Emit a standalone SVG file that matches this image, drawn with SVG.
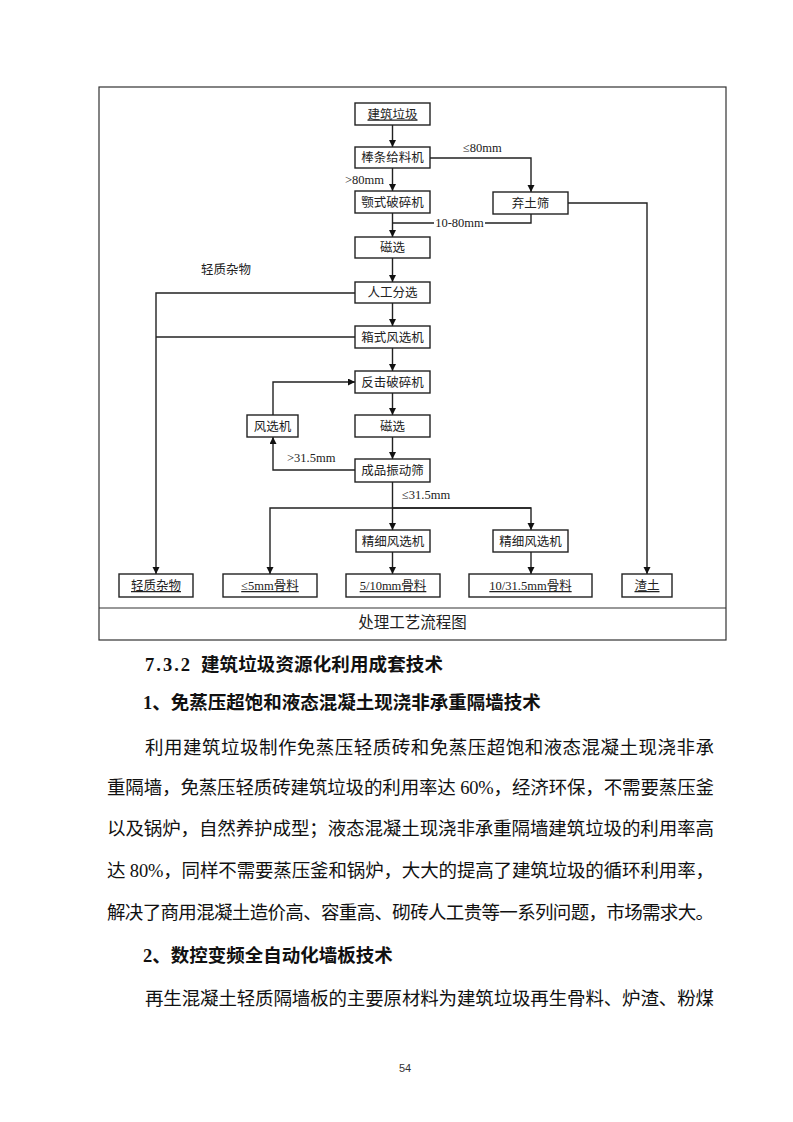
<svg xmlns="http://www.w3.org/2000/svg" width="793" height="1122" viewBox="0 0 793 1122">
<defs>
<marker id="arr" markerUnits="userSpaceOnUse" markerWidth="8" markerHeight="8" refX="7" refY="3.5" orient="auto">
<path d="M0,0 L7,3.5 L0,7 z" fill="#111"/>
</marker>
<style>
.box{fill:#fff;stroke:#222;stroke-width:1.4}
.bt{font-family:"Liberation Serif","Noto Sans CJK SC",serif;font-size:12.5px;fill:#222;text-anchor:middle}
.u{text-decoration:underline}
.lbl{font-family:"Liberation Serif","Noto Sans CJK SC",serif;font-size:12.5px;fill:#222}
.ln{fill:none;stroke:#222;stroke-width:1.4}
.body{font-family:"Liberation Serif","Noto Sans CJK SC",serif;font-size:18.5px;fill:#111}
.hd{font-family:"Liberation Serif","Noto Sans CJK SC",serif;font-size:18.5px;font-weight:bold;fill:#111}
</style>
</defs>
<rect width="793" height="1122" fill="#fff"/>
<!-- frame -->
<rect x="99" y="87" width="627" height="553" fill="none" stroke="#333" stroke-width="1.2"/>
<line x1="99" y1="608" x2="726" y2="608" stroke="#333" stroke-width="1.2"/>
<text x="412.5" y="628" text-anchor="middle" style="font-family:'Liberation Serif','Noto Sans CJK SC',serif;font-size:15.5px;fill:#222">处理工艺流程图</text>

<g id="connectors">
<path class="ln" d="M392.5,125 V147" marker-end="url(#arr)"/>
<path class="ln" d="M392.5,168 V191" marker-end="url(#arr)"/>
<path class="ln" d="M392.5,213 V237" marker-end="url(#arr)"/>
<path class="ln" d="M392.5,258 V282" marker-end="url(#arr)"/>
<path class="ln" d="M392.5,303 V326" marker-end="url(#arr)"/>
<path class="ln" d="M392.5,348 V371" marker-end="url(#arr)"/>
<path class="ln" d="M392.5,393 V415" marker-end="url(#arr)"/>
<path class="ln" d="M392.5,437 V459" marker-end="url(#arr)"/>
<path class="ln" d="M392.5,482 V530" marker-end="url(#arr)"/>
<path class="ln" d="M531,508 H270 V574" marker-end="url(#arr)"/>
<path class="ln" d="M392.5,508 H531 V530" marker-end="url(#arr)"/>
<path class="ln" d="M392.5,552 V574" marker-end="url(#arr)"/>
<path class="ln" d="M531,552 V574" marker-end="url(#arr)"/>
<path class="ln" d="M430,158 H531 V192" marker-end="url(#arr)"/>
<path class="ln" d="M531,214 V223 H485"/>
<path class="ln" d="M434,223 H392.5"/>
<path class="ln" d="M568,203 H647 V574" marker-end="url(#arr)"/>
<path class="ln" d="M355,293 H156 V574" marker-end="url(#arr)"/>
<path class="ln" d="M355,337 H156"/>
<path class="ln" d="M355,470 H273 V437" marker-end="url(#arr)"/>
<path class="ln" d="M273,415 V382 H355" marker-end="url(#arr)"/>
<text class="lbl" x="384" y="184" text-anchor="end">&gt;80mm</text>
<text class="lbl" x="463" y="152">≤80mm</text>
<text class="lbl" x="459.5" y="227" text-anchor="middle">10-80mm</text>
<text class="lbl" x="201" y="274">轻质杂物</text>
<text class="lbl" x="287" y="462">&gt;31.5mm</text>
<text class="lbl" x="402" y="499">≤31.5mm</text>
</g>

<g id="n1"><rect class="box" x="355" y="103" width="75" height="22"/><text class="bt u" x="392.5" y="118.5">建筑垃圾</text></g>
<g id="n2"><rect class="box" x="355" y="147" width="75" height="21"/><text class="bt" x="392.5" y="162">棒条给料机</text></g>
<g id="n3"><rect class="box" x="355" y="191" width="75" height="22"/><text class="bt" x="392.5" y="206.5">颚式破碎机</text></g>
<g id="n4"><rect class="box" x="355" y="237" width="75" height="21"/><text class="bt" x="392.5" y="252">磁选</text></g>
<g id="n5"><rect class="box" x="355" y="282" width="75" height="21"/><text class="bt" x="392.5" y="297">人工分选</text></g>
<g id="n6"><rect class="box" x="355" y="326" width="75" height="22"/><text class="bt" x="392.5" y="341.5">箱式风选机</text></g>
<g id="n7"><rect class="box" x="355" y="371" width="75" height="22"/><text class="bt" x="392.5" y="386.5">反击破碎机</text></g>
<g id="n8"><rect class="box" x="355" y="415" width="75" height="22"/><text class="bt" x="392.5" y="430.5">磁选</text></g>
<g id="n9"><rect class="box" x="355" y="459" width="75" height="23"/><text class="bt" x="392.5" y="475">成品振动筛</text></g>
<g id="n10"><rect class="box" x="247" y="415" width="51" height="22"/><text class="bt" x="272.5" y="430.5">风选机</text></g>
<g id="n11"><rect class="box" x="493" y="192" width="75" height="22"/><text class="bt" x="530.5" y="207.5">弃土筛</text></g>
<g id="n12"><rect class="box" x="356" y="530" width="74" height="22"/><text class="bt" x="393" y="545.5">精细风选机</text></g>
<g id="n13"><rect class="box" x="493" y="530" width="75" height="22"/><text class="bt" x="530.5" y="545.5">精细风选机</text></g>
<g id="b1"><rect class="box" x="119" y="574" width="74" height="23"/><text class="bt u" x="156" y="590">轻质杂物</text></g>
<g id="b2"><rect class="box" x="223" y="574" width="94" height="23"/><text class="bt u" x="270" y="590">≤5mm骨料</text></g>
<g id="b3"><rect class="box" x="346" y="574" width="94" height="23"/><text class="bt u" x="393" y="590">5/10mm骨料</text></g>
<g id="b4"><rect class="box" x="469" y="574" width="123" height="23"/><text class="bt u" x="530.5" y="590">10/31.5mm骨料</text></g>
<g id="b5"><rect class="box" x="622" y="574" width="50" height="23"/><text class="bt u" x="647" y="590">渣土</text></g>

<!-- body text -->
<text class="hd" x="145" y="671" textLength="45" lengthAdjust="spacing">7.3.2</text>
<text class="hd" x="201" y="671" textLength="242" lengthAdjust="spacing">建筑垃圾资源化利用成套技术</text>
<text class="hd" x="143" y="709">1、免蒸压超饱和液态混凝土现浇非承重隔墙技术</text>
<text class="body" x="145" y="754" textLength="569" lengthAdjust="spacing">利用建筑垃圾制作免蒸压轻质砖和免蒸压超饱和液态混凝土现浇非承</text>
<text class="body" x="107" y="794" textLength="607" lengthAdjust="spacing">重隔墙，免蒸压轻质砖建筑垃圾的利用率达 60%，经济环保，不需要蒸压釜</text>
<text class="body" x="107" y="835" textLength="607" lengthAdjust="spacing">以及锅炉，自然养护成型；液态混凝土现浇非承重隔墙建筑垃圾的利用率高</text>
<text class="body" x="107" y="877" textLength="607" lengthAdjust="spacing">达 80%，同样不需要蒸压釜和锅炉，大大的提高了建筑垃圾的循环利用率，</text>
<text class="body" x="107" y="919" textLength="607" lengthAdjust="spacing">解决了商用混凝土造价高、容重高、砌砖人工贵等一系列问题，市场需求大。</text>
<text class="hd" x="143" y="962">2、数控变频全自动化墙板技术</text>
<text class="body" x="145" y="1005" textLength="569" lengthAdjust="spacing">再生混凝土轻质隔墙板的主要原材料为建筑垃圾再生骨料、炉渣、粉煤</text>
<text x="405" y="1072" text-anchor="middle" style="font-family:'Liberation Sans',sans-serif;font-size:11px;fill:#333">54</text>
</svg>
